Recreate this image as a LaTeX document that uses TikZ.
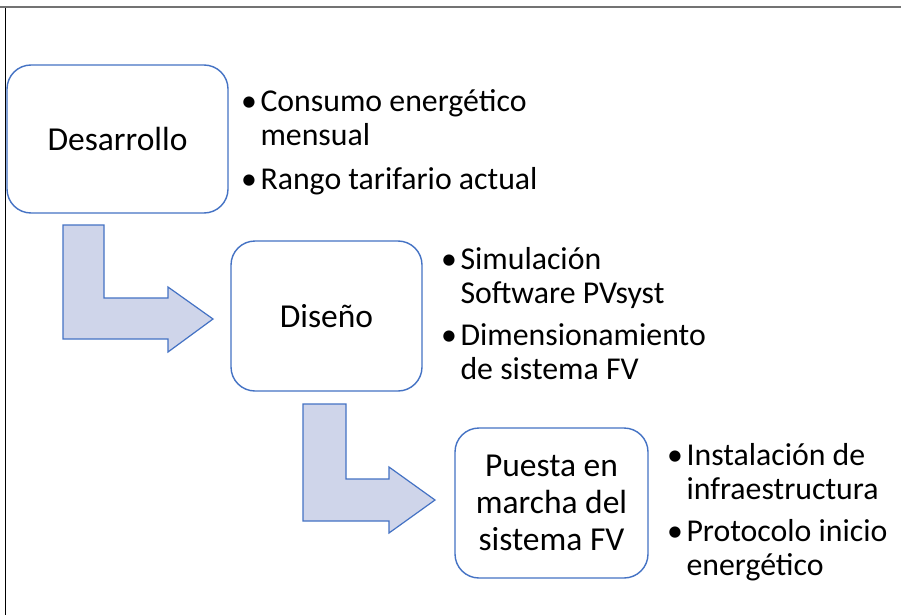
\documentclass[tikz,border=0pt]{standalone}
\usepackage{fontspec}
\setmainfont{Carlito}
\definecolor{boxblue}{HTML}{4472C4}
\definecolor{arrowfill}{HTML}{CFD5EA}
\begin{document}
\begin{tikzpicture}[x=1pt,y=-1pt,
  stage/.style={draw=boxblue,line width=1.4pt,rounded corners=24pt,fill=white,
    inner sep=0pt,font=\fontsize{33.5}{37}\selectfont,align=center},
  bul/.style={anchor=north west,inner sep=0pt,font=\fontsize{31.8}{34.5}\selectfont},
  bentarrow/.style={draw=boxblue,fill=arrowfill,line width=1.2pt,line join=miter}]
\useasboundingbox (0,0) rectangle (901,615);
\fill[white] (0,0) rectangle (901,615);
% frame
\draw[gray!90!black,line width=2.2pt] (0,7) -- (901,7);
\draw[black,line width=1.6pt] (5.5,8) -- (5.5,615);
% stage boxes
\node[stage,minimum width=221pt,minimum height=148pt] (d1) at (117.5,139) {Desarrollo};
\node[stage,minimum width=191pt,minimum height=150pt] (d2) at (326.5,316) {Diseño};
\node[stage,minimum width=193pt,minimum height=150pt] (d3) at (551.5,503) {Puesta en\\marcha del\\sistema FV};
% bent arrows
\draw[bentarrow] (63,225) -- (104,225) -- (104,298) -- (168,298) -- (168,287)
  -- (213,319) -- (168,352) -- (168,339) -- (63,339) -- cycle;
\draw[bentarrow] (303,404) -- (346,404) -- (346,479) -- (389,479) -- (389,467)
  -- (435,500) -- (389,533) -- (389,521) -- (303,521) -- cycle;
% bullet lists
\node[bul] (b1) at (241,87) {\begin{tabular}{@{}l@{\hspace{3.5pt}}l@{}}
  \textbullet & Consumo energético\\ & mensual\\[9pt]
  \textbullet & Rango tarifario actual\end{tabular}};
\node[bul] (b2) at (441,245) {\begin{tabular}{@{}l@{\hspace{3.5pt}}l@{}}
  \textbullet & Simulación\\ & Software PVsyst\\[7pt]
  \textbullet & Dimensionamiento\\ & de sistema FV\end{tabular}};
\node[bul] (b3) at (667,441) {\begin{tabular}{@{}l@{\hspace{3.5pt}}l@{}}
  \textbullet & Instalación de\\ & infraestructura\\[7pt]
  \textbullet & Protocolo inicio\\ & energético\end{tabular}};
\end{tikzpicture}
\end{document}
